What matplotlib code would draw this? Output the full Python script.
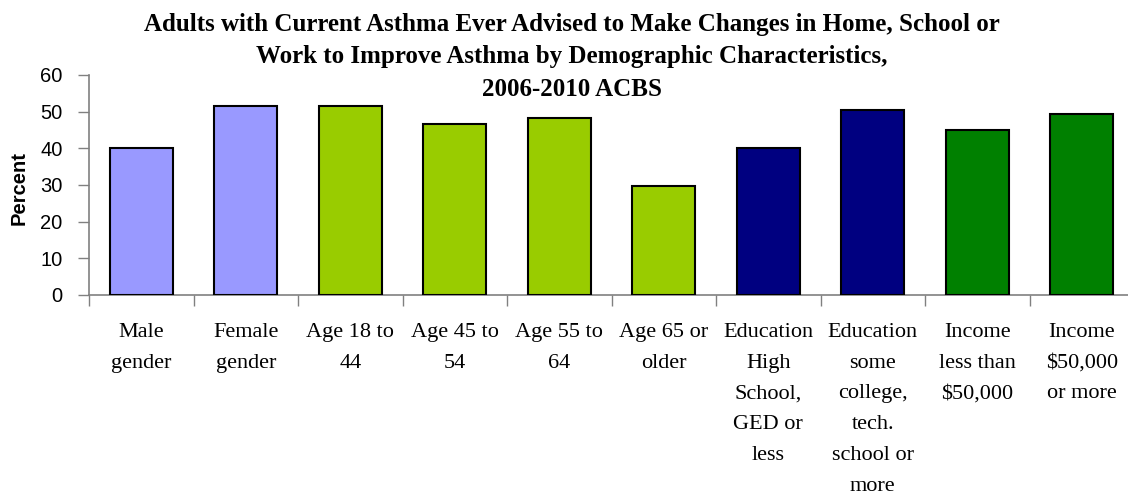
import matplotlib.pyplot as plt

# Asthma survey results, percent advised to make changes
categories = [
    "Male\ngender", "Female\ngender", "Age 18 to\n44", "Age 45 to\n54",
    "Age 55 to\n64", "Age 65 or\nolder", "Education\nHigh\nSchool,\nGED or\nless",
    "Education\nsome\ncollege,\ntech.\nschool or\nmore",
    "Income\nless than\n$50,000", "Income\n$50,000\nor more",
]
percent = [40.2, 51.6, 51.6, 46.7, 48.3, 29.8, 40.2, 50.5, 45.1, 49.4]
bar_colors = ["#9999FF", "#9999FF", "#99CC00", "#99CC00", "#99CC00", "#99CC00",
              "#000080", "#000080", "#008000", "#008000"]
yticks = [0, 10, 20, 30, 40, 50, 60]
title_lines = [
    "Adults with Current Asthma Ever Advised to Make Changes in Home, School or",
    "Work to Improve Asthma by Demographic Characteristics,",
    "2006-2010 ACBS",
]

fig = plt.figure(figsize=(11.28, 4.99), dpi=100)
ax = fig.add_axes([89 / 1128, 204 / 499, 1045 / 1128, 220 / 499])

x = list(range(len(categories)))
ax.bar(x, percent, width=0.6, color=bar_colors, edgecolor="black", linewidth=1.5, zorder=3)

ax.set_xlim(-0.5, len(categories) - 0.5)
ax.set_ylim(0, 60)
ax.set_yticks(yticks)
ax.tick_params(axis="y", direction="out", length=8, width=1, color="#808080",
               labelsize=14.5, pad=11)
for lab in ax.get_yticklabels():
    lab.set_fontfamily("Liberation Sans")

# category labels sit between the boundary ticks
ax.set_xticks([i - 0.5 for i in x] + [len(x) - 0.5])
ax.set_xticklabels([])
ax.tick_params(axis="x", direction="out", length=8, width=1, color="#808080")
for i, lab in enumerate(categories):
    ax.text(i, -7.6, lab, ha="center", va="top", fontsize=16,
            family="Liberation Serif", linespacing=1.84)

for side in ["top", "right"]:
    ax.spines[side].set_visible(False)
for side in ["left", "bottom"]:
    ax.spines[side].set_color("#808080")
    ax.spines[side].set_linewidth(1.2)

fig.text(19 / 1128, 1 - 188 / 499, "Percent", rotation=90, ha="center", va="center",
         fontsize=14.5, fontweight="bold", family="Liberation Sans")

for line, ypix in zip(title_lines, [24, 57, 89]):
    fig.text(572 / 1128, 1 - ypix / 499, line, ha="center", va="center",
             fontsize=18, fontweight="bold", family="Liberation Serif")

fig.savefig("out.png", dpi=100)
